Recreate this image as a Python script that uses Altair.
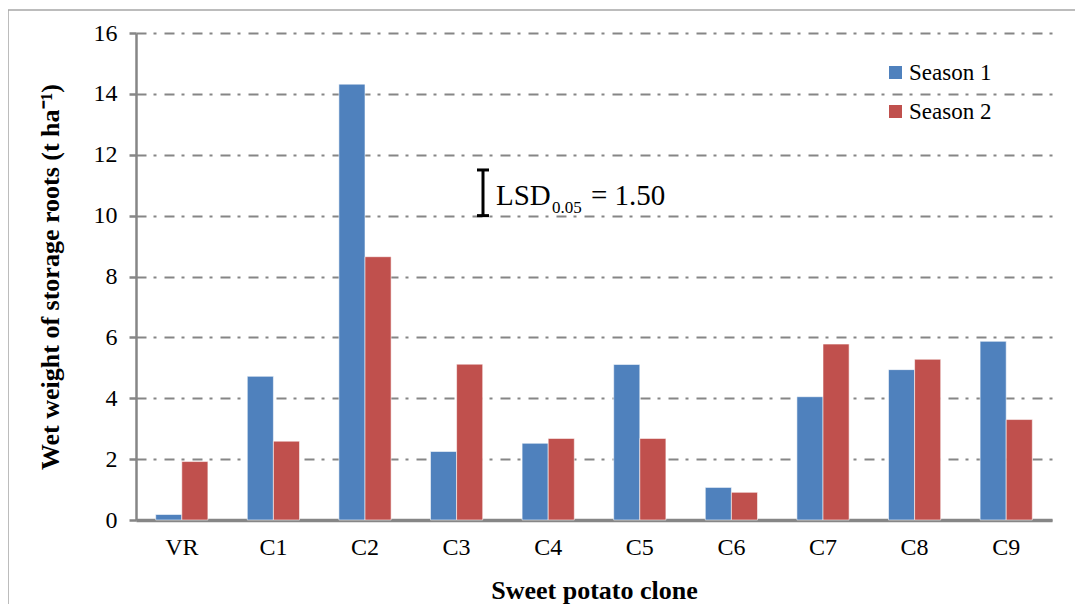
import altair as alt
import pandas as pd

clones = ["VR", "C1", "C2", "C3", "C4", "C5", "C6", "C7", "C8", "C9"]
season1 = [0.18, 4.72, 14.32, 2.25, 2.52, 5.11, 1.07, 4.05, 4.94, 5.87]
season2 = [1.92, 2.59, 8.65, 5.12, 2.68, 2.68, 0.91, 5.78, 5.28, 3.30]
series = ["Season 1", "Season 2"]
colors = ["#4F81BD", "#C0504D"]
y_ticks = [0, 2, 4, 6, 8, 10, 12, 14, 16]
lsd_base = [10.0]
lsd_value = [1.50]

rows = []
for c, a, b in zip(clones, season1, season2):
    rows.append({"clone": c, "season": series[0], "value": a})
    rows.append({"clone": c, "season": series[1], "value": b})
df = pd.DataFrame(rows)

W, H = 916, 487
FONT = "Liberation Serif, Times New Roman, serif"
GRID = "#868686"

bars = alt.Chart(df).mark_bar(stroke="white", strokeWidth=0.8, strokeOpacity=0.7).encode(
    x=alt.X("clone:N", sort=clones,
            scale=alt.Scale(paddingInner=0.43, paddingOuter=0.215),
            axis=alt.Axis(title="Sweet potato clone", labelAngle=0, ticks=False,
                          grid=False, domainColor=GRID, domainWidth=3.5,
                          labelPadding=15, titlePadding=18)),
    xOffset=alt.XOffset("season:N", sort=series),
    y=alt.Y("value:Q", scale=alt.Scale(domain=[0, 16]),
            axis=alt.Axis(title="Wet weight of storage roots (t ha\u207b\u00b9)",
                          values=y_ticks, tickSize=7, tickWidth=2.5, tickColor=GRID,
                          domainColor=GRID, domainWidth=2.5, labelPadding=12,
                          grid=True, gridColor=GRID, gridWidth=2,
                          gridDash=[10, 7, 3, 8], titlePadding=30)),
    color=alt.Color("season:N", sort=series,
                    scale=alt.Scale(domain=series, range=colors),
                    legend=alt.Legend(title=None, orient="none", legendX=748, legendY=28,
                                      symbolType="square", symbolSize=169,
                                      symbolStrokeWidth=0, labelFontSize=23,
                                      labelFont=FONT, rowPadding=15, labelOffset=2)),
)

lsd_df = pd.DataFrame({"base": lsd_base, "lsd": lsd_value})
lsd_df["top"] = lsd_df["base"] + lsd_df["lsd"]

LX = 347
bar_v = alt.Chart(lsd_df).mark_rule(color="black", strokeWidth=3).encode(
    x=alt.value(LX), y="base:Q", y2="top:Q")
cap_lo = alt.Chart(lsd_df).mark_rule(color="black", strokeWidth=3).encode(
    x=alt.value(LX - 6), x2=alt.value(LX + 6), y="base:Q")
cap_hi = alt.Chart(lsd_df).mark_rule(color="black", strokeWidth=3).encode(
    x=alt.value(LX - 6), x2=alt.value(LX + 6), y="top:Q")

t1 = alt.Chart(lsd_df).mark_text(font=FONT, fontSize=29, align="left", baseline="alphabetic",
                                 color="black").encode(
    x=alt.value(360), y=alt.value(172), text=alt.value("LSD"))
t2 = alt.Chart(lsd_df).mark_text(font=FONT, fontSize=17, align="left", baseline="alphabetic",
                                 color="black").encode(
    x=alt.value(416), y=alt.value(180), text=alt.value("0.05"))
t3 = alt.Chart(lsd_df).transform_calculate(
    lbl="'= ' + format(datum.lsd, '.2f')").mark_text(
    font=FONT, fontSize=29, align="left", baseline="alphabetic", color="black").encode(
    x=alt.value(455), y=alt.value(172), text="lbl:N")

frame = alt.Chart(lsd_df).mark_rect(fill=None, stroke="#A6A6A6", strokeWidth=1.5).encode(
    x=alt.value(-128), x2=alt.value(944), y=alt.value(-23), y2=alt.value(640))

chart = alt.layer(frame, bars, bar_v, cap_lo, cap_hi, t1, t2, t3).properties(
    width=W, height=H,
    autosize=alt.AutoSizeParams(type="none"),
    padding={"left": 128, "top": 25, "right": 23, "bottom": 84},
).configure_view(stroke=None).configure_axis(
    labelFont=FONT, labelFontSize=24, labelColor="black",
    titleFont=FONT, titleFontSize=26, titleFontWeight="bold", titleColor="black",
).configure_legend(labelColor="black")

chart.save("out.html", embed_options={"renderer": "svg", "actions": False})
